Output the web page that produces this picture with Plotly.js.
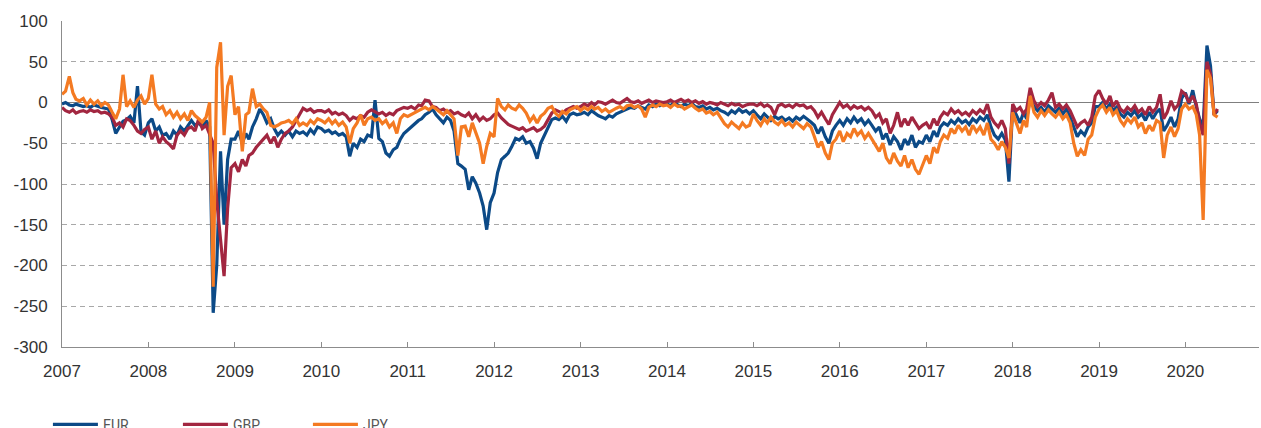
<!DOCTYPE html>
<html>
<head>
<meta charset="utf-8">
<script src="https://cdn.plot.ly/plotly-3.0.1.min.js"></script>
<style>
  html, body { margin: 0; padding: 0; background: #fff; }
  #chart { width: 1261px; height: 428px; }
</style>
</head>
<body>
<div id="chart"></div>
<script>
// Semi-monthly readings (1st and 16th of each month), Jan 2007 - May 2020
var startYear = 2007;

var eur = [
  // 2007
  -2, 0, -3, -4, -2, -3, -5, -4, -6, -3, -5, -6, -7, -8, -21, -38, -30, -23, -21, -17, -25, 20, -36, -40,
  // 2008
  -25, -20, -35, -30, -40, -38, -45, -35, -40, -30, -35, -28, -22, -28, -25, -30, -22, -30, -258, -200, -60, -150, -70, -45,
  // 2009
  -45, -35, -50, -38, -45, -30, -20, -8, -15, -25, -20, -32, -40, -35, -40, -35, -42, -35, -38, -36, -40, -33, -38, -30,
  // 2010
  -32, -36, -34, -38, -36, -40, -38, -42, -66, -50, -55, -45, -48, -40, -42, 3, -44, -48, -62, -66, -58, -55, -45, -38,
  // 2011
  -34, -30, -25, -22, -20, -15, -12, -8, -15, -20, -25, -18, -22, -35, -75, -78, -82, -107, -91, -99, -111, -127, -156, -123,
  // 2012
  -111, -86, -70, -66, -62, -54, -44, -46, -42, -50, -48, -56, -69, -50, -40, -29, -21, -19, -21, -17, -23, -15, -13, -15,
  // 2013
  -14, -12, -15, -10, -13, -16, -18, -20, -16, -18, -14, -12, -10, -8, -6, -7, -4, -6, -8, -3, -5, -2, -4, -1,
  // 2014
  -2, -4, 0, -3, -5, -2, -4, -1, -5, -6, -4, -8, -6, -9, -7, -10, -12, -15, -10, -13, -8, -12, -10, -14,
  // 2015
  -10, -15, -20, -14, -18, -22, -17, -20, -18, -22, -19, -23, -18, -21, -17, -20, -24, -28, -38, -30, -42, -50, -35, -28,
  // 2016
  -22, -28, -20, -25, -18, -24, -20, -27, -22, -28, -35, -30, -45, -38, -52, -42, -48, -58, -45, -52, -40, -55, -48, -50,
  // 2017
  -40, -48, -35, -42, -30, -25, -28, -22, -26, -20, -25, -22, -27, -20, -24, -18, -22, -15, -30, -40, -45, -38, -46, -97,
  // 2018
  -6, -15, -25, -12, -20, 5, -5, -10, -6, -12, -4, -8, -12, -7, -14, -8, -18, -30, -42, -35, -40, -30, -25, -5,
  // 2019
  -5, 0, -8, -2, -10, -6, -14, -18, -12, -16, -10, -18, -14, -22, -12, -20, -12, -8, -35, -28, -18, -30, -20, 5,
  // 2020
  12, -2, 15, -5, -20, -30, 70, 45, -15, -10
];

var gbp = [
  // 2007
  -6, -10, -12, -9, -13, -11, -10, -12, -9, -11, -10, -13, -12, -14, -18, -28, -25, -30, -20, -22, -28, -35, -38, -33,
  // 2008
  -30, -45, -35, -50, -42, -48, -52, -57, -40, -35, -40, -32, -30, -35, -20, -32, -28, -40, -50, -120, -165, -213, -130, -80,
  // 2009
  -75, -85, -70, -78, -65, -62, -55, -50, -45, -40, -50, -42, -55, -45, -38, -35, -30, -22, -15, -7, -10, -8, -12, -10,
  // 2010
  -10, -12, -9, -14, -12, -15, -13, -16, -22, -18, -20, -16, -18, -12, -9, -11, -14, -12, -16, -13, -15, -10, -8, -6,
  // 2011
  -7, -5, -8, -3, -4, 3, 2, -5, -6, -10, -8, -12, -10, -14, -12, -15, -17, -13, -20, -15, -22, -18, -22, -20,
  // 2012
  -15, -13, -19, -23, -27, -29, -31, -33, -31, -35, -33, -31, -35, -33, -29, -21, -13, -9, -11, -13, -9, -7, -5, -7,
  // 2013
  -5, -2, -4, 0, -3, 1, 0, -2, 1, 3, 0, -1, 2, 5, 1, 0, 2, -1, 1, 3, 0, 2, 1, 0,
  // 2014
  1, 3, 0, 2, 4, 1, 3, 0, 2, -1, 1, -2, 0, -1, -3, 0, -2, -4, -1, -3, -2, -5, -3, -2,
  // 2015
  -2, -4, -1, -5, -3, -6, -15, -4, -2, -5, -3, -6, -2, -4, -3, -7, -5, -10, -18, -12, -20, -27, -15, -8,
  // 2016
  0, -6, -3, -8, -4, -7, -5, -9, -6, -10, -18, -14, -25, -20, -38, -28, -12, -30, -20, -28, -18, -25, -32, -28,
  // 2017
  -25, -32, -20, -28, -18, -12, -15, -8, -13, -10, -15, -12, -16, -10, -14, -9, -13, -2, -18, -25, -30, -22, -32, -75,
  // 2018
  -2, -10, -6, -14, -8, 18, 2, -5, 0, -4, 3, 12, -6, -2, -8, -3, -10, -20, -30, -25, -22, -28, -18, 8,
  // 2019
  15, 5, -2, 8, -5, 2, -8, -12, -6, -10, -4, -12, -8, -15, -5, -12, -6, 10, -20, -12, 2, -8, -3, 14,
  // 2020
  10, 0, 8, -2, -25, -40, 50, 35, -15, -8
];

var jpy = [
  // 2007
  10, 14, 32, 12, 4, 2, 5, -3, 3, -2, 2, -4, 0, -3, -12, -20, -8, 34, -5, 2, -6, 3, 8, -2,
  // 2008
  5, 34, -2, -8, -5, -15, -10, -18, -12, -20, -14, -22, -10, -16, -20, -24, -18, 0, -226, 43, 74, -40, 20, 33,
  // 2009
  -15, -5, -60, -15, -12, 17, -5, -2, -8, -12, -28, -30, -28, -25, -24, -22, -26, -20, -28, -25, -28, -22, -26, -20,
  // 2010
  -22, -25, -20, -26, -22, -28, -24, -30, -50, -32, -25, -15, -28, -20, -18, -22, -20, -26, -22, -30, -25, -38, -20, -15,
  // 2011
  -17, -15, -12, -10, -8, -6, -9, -5, -8, -12, -15, -10, -15, -20, -65, -30, -29, -42, -25, -38, -50, -75, -54, -38,
  // 2012
  -42, 5, -5, -9, -3, -7, -9, -3, -7, -13, -23, -17, -25, -17, -13, -7, -5, -13, -17, -11, -14, -9, -7, -5,
  // 2013
  -10, -6, -9, -5, -8, -6, -11, -8, -12, -9, -7, -5, -8, -4, -3, -6, -4, -8, -18, -6, -3, -5, -2, -4,
  // 2014
  -3, -6, -2, -5, -4, -8, -5, -3, -7, -10, -8, -13, -11, -15, -12, -18, -26, -30, -24, -28, -32, -25, -30, -28,
  // 2015
  -14, -22, -28, -20, -25, -18, -24, -27, -22, -28, -25, -30, -24, -28, -32, -26, -30, -42, -55, -48, -62, -70, -50, -45,
  // 2016
  -35, -48, -38, -42, -32, -40, -35, -44, -38, -45, -52, -60, -50, -68, -75, -62, -72, -78, -65, -80, -70, -82, -88, -76,
  // 2017
  -65, -75, -55, -62, -48, -40, -44, -32, -38, -28, -35, -30, -40, -28, -36, -30, -40, -25, -45, -50, -58, -48, -55, -68,
  // 2018
  -12, -25, -38, -22, -30, 8, -12, -18, -10, -16, -9, -14, -18, -12, -20, -15, -25, -50, -66, -58, -65, -45, -40, -18,
  // 2019
  -8, -3, -12, -6, -15, -10, -22, -28, -20, -25, -18, -30, -25, -38, -28, -35, -22, -25, -68, -40, -30, -42, -32, -8,
  // 2020
  -2, -8, -5, -15, -40, -144, 40, 30, -15, -18
];

var seriesNames = ['EUR', 'GBP', 'JPY'];
var seriesColors = ['#0c4a87', '#a22640', '#f47a22'];
var yTickVals = [-300, -250, -200, -150, -100, -50, 0, 50, 100];
var yTickText = ['-300', '-250', '-200', '-150', '-100', '-50', '0', '50', '100'];
var xTickYears = ['2007','2008','2009','2010','2011','2012','2013','2014','2015','2016','2017','2018','2019','2020'];

// semi-monthly date stamps matching the readings above
var dates = [];
for (var i = 0; i < eur.length; i++) {
  var yr = startYear + Math.floor(i / 24);
  var mo = Math.floor((i % 24) / 2) + 1;
  var dy = (i % 2) ? 16 : 1;
  dates.push(yr + '-' + (mo < 10 ? '0' : '') + mo + '-' + (dy < 10 ? '0' : '') + dy);
}

var values = [eur, gbp, jpy];
var traces = values.map(function (v, k) {
  return {
    type: 'scatter', mode: 'lines', x: dates, y: v, name: seriesNames[k],
    line: { color: seriesColors[k], width: 3.2 }, hoverinfo: 'skip'
  };
});

var tickFont = { family: 'Liberation Sans, Arial, Helvetica, sans-serif', size: 17, color: '#333333' };

var layout = {
  width: 1261, height: 428,
  margin: { l: 62, r: 2, t: 21, b: 81, autoexpand: false },
  paper_bgcolor: '#ffffff', plot_bgcolor: '#ffffff',
  showlegend: true,
  legend: {
    orientation: 'h', xref: 'container', yref: 'container',
    x: 0.038, y: 0.045, xanchor: 'left', yanchor: 'top',
    entrywidth: 70, entrywidthmode: 'pixels', itemwidth: 45,
    font: { family: 'Liberation Sans Narrow, Arial Narrow, Roboto, sans-serif', size: 14, color: '#555555' },
    bgcolor: 'rgba(0,0,0,0)'
  },
  xaxis: {
    type: 'date', range: ['2007-01-01', '2020-11-07'],
    tickvals: xTickYears.map(function (y) { return y + '-01-01'; }),
    ticktext: xTickYears,
    ticks: 'inside', ticklen: 5, tickcolor: '#8c8c8c', tickwidth: 1,
    ticklabelstandoff: 9,
    showline: true, linecolor: '#8c8c8c', linewidth: 1,
    showgrid: false, zeroline: false, tickfont: tickFont, tickangle: 0
  },
  yaxis: {
    range: [-300, 100], tickvals: yTickVals, ticktext: yTickText,
    showline: true, linecolor: '#8c8c8c', linewidth: 1,
    showgrid: true, gridcolor: '#a8a8a8', griddash: '5px,4px', gridwidth: 1,
    zeroline: true, zerolinecolor: '#7f7f7f', zerolinewidth: 1.5,
    ticks: '', ticklabelstandoff: 10, tickfont: tickFont
  }
};

Plotly.newPlot('chart', traces, layout, { staticPlot: true, displayModeBar: false });
</script>
</body>
</html>
